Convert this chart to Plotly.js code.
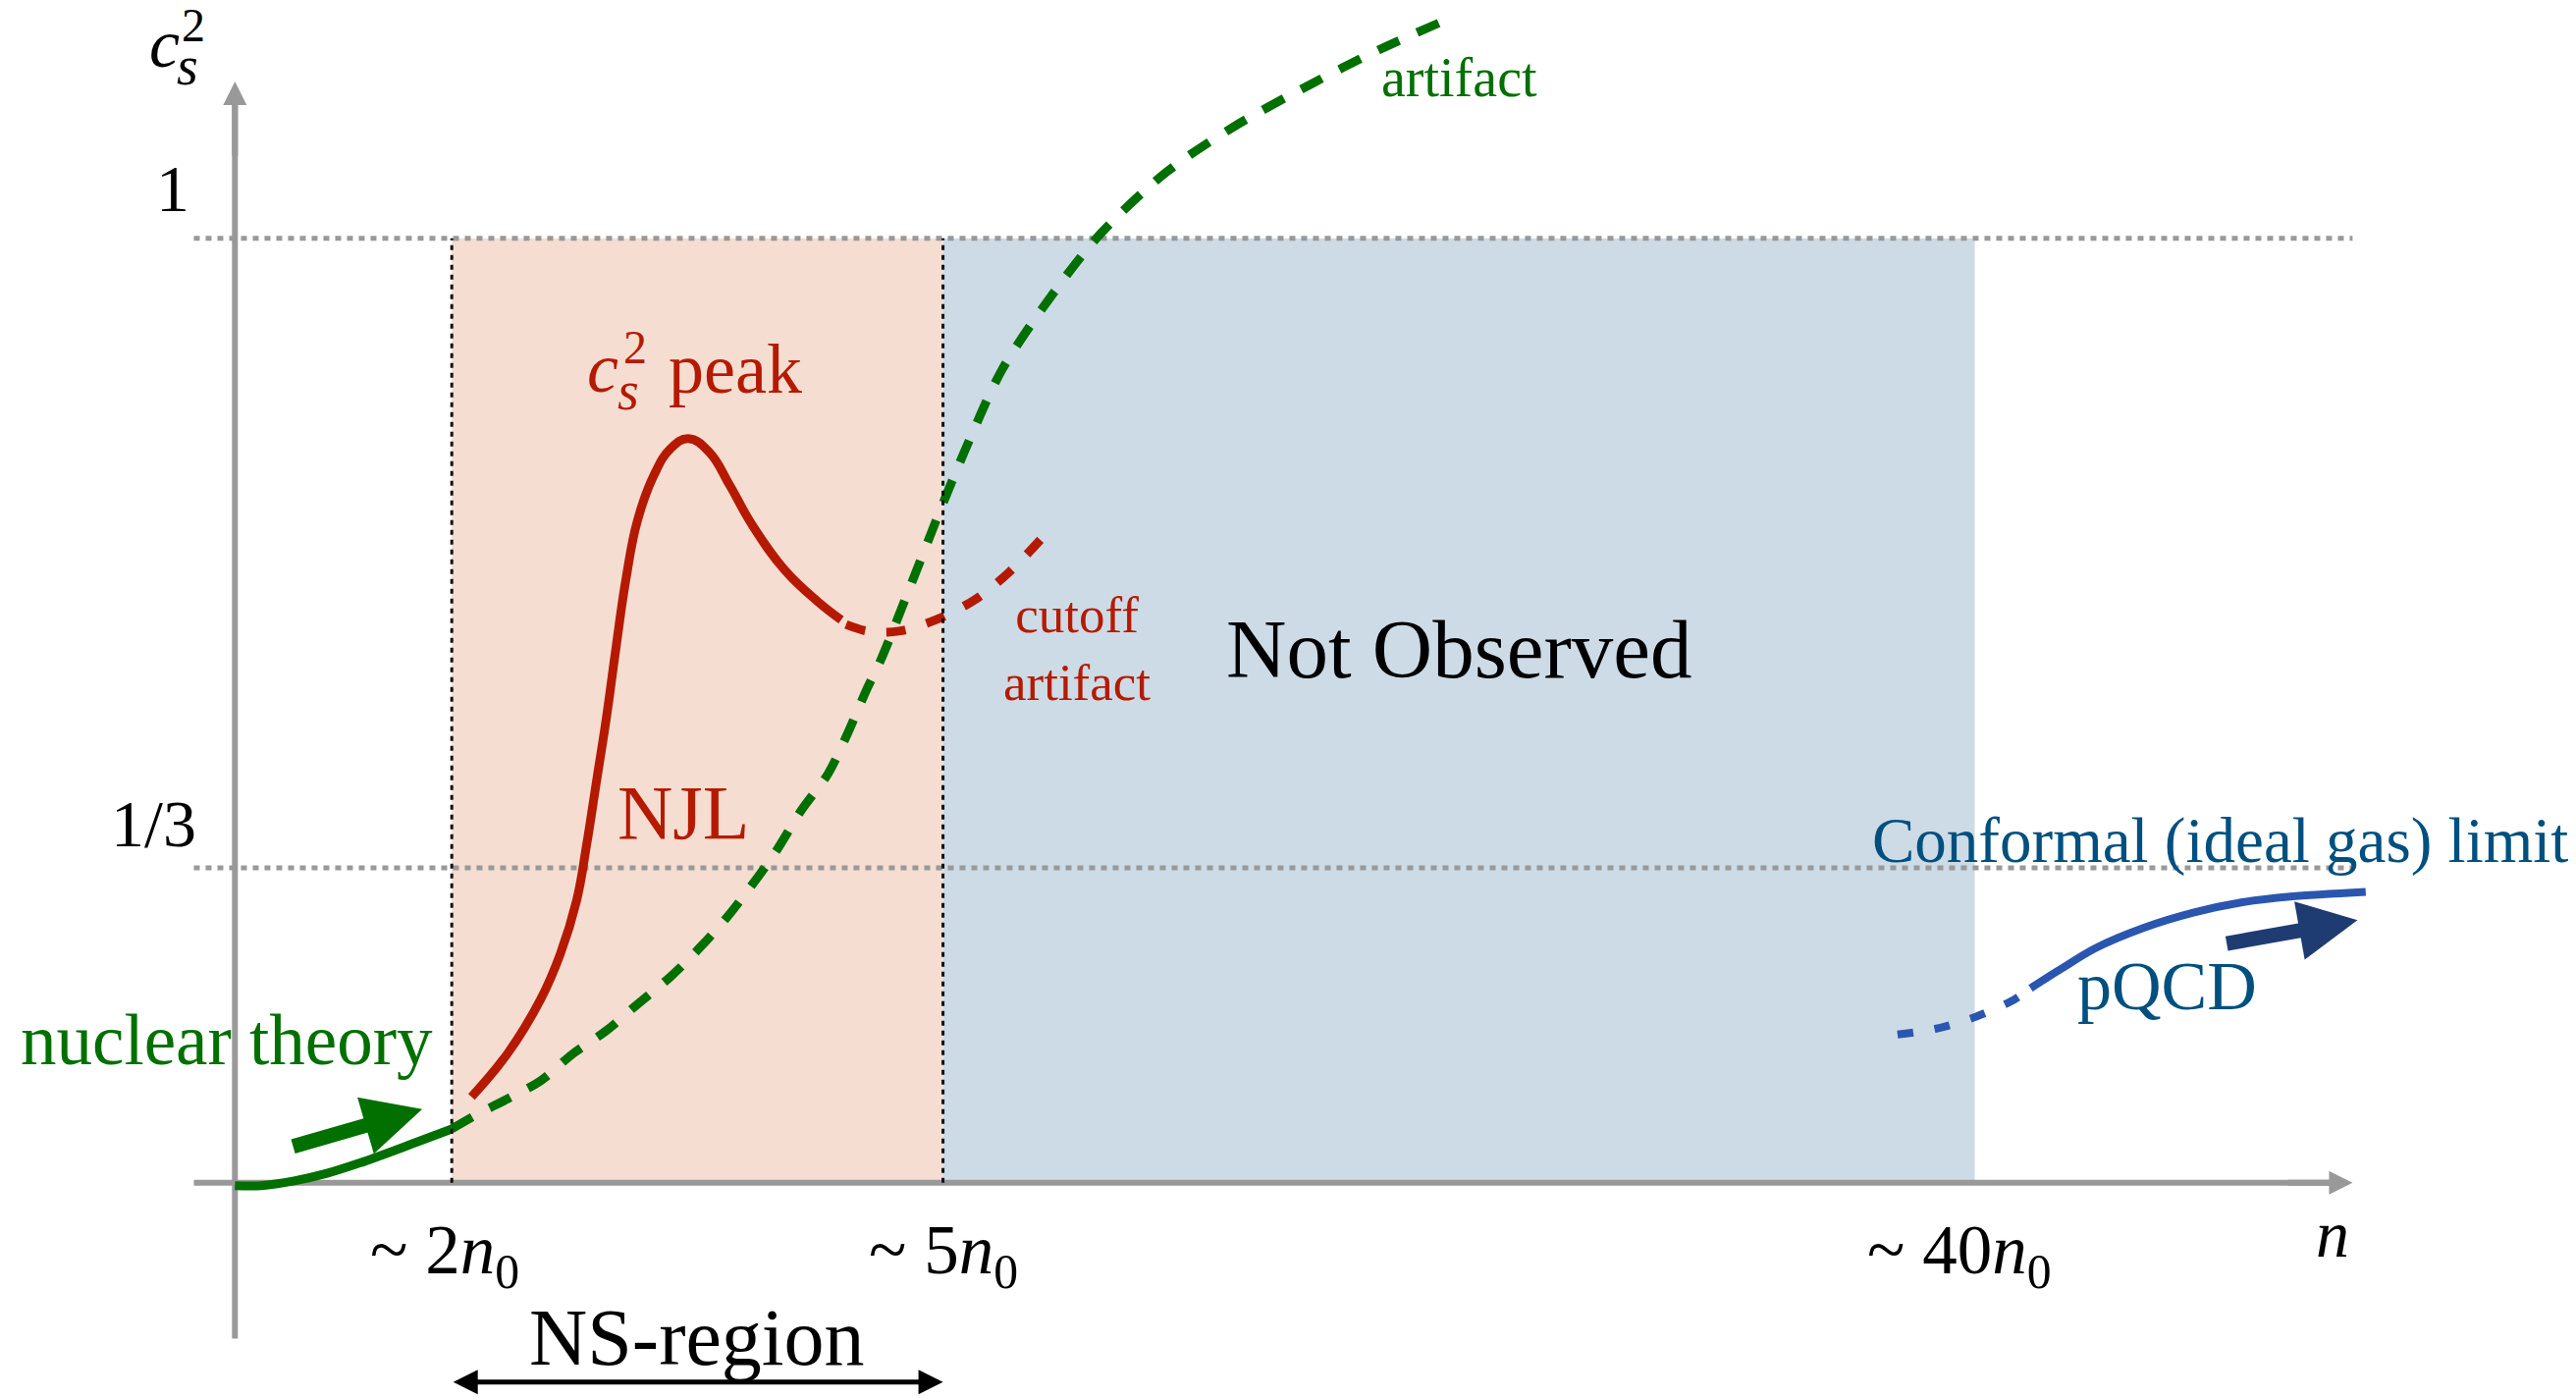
<!DOCTYPE html>
<html>
<head>
<meta charset="utf-8">
<script src="https://cdn.plot.ly/plotly-3.0.1.min.js"></script>
<style>
  html, body { margin: 0; padding: 0; background: #ffffff; }
  #chart { width: 2624px; height: 1424px; }
</style>
</head>
<body>
<div id="chart"></div>
<script>
// Schematic of the squared speed of sound c_s^2 versus baryon density n.
// The density axis uses arbitrary linear units (origin at the c_s^2 axis).

const xTickVals = [1.32, 4.31, 10.59];
const xTickText = ['~ 2<i>n</i><sub>0</sub>', '~ 5<i>n</i><sub>0</sub>', '~ 40<i>n</i><sub>0</sub>'];
const yTickVals = [1 / 3, 1];
const yTickText = ['1/3', '1'];

const nsRegion = [1.32, 4.31];
const notObservedRegion = [4.31, 10.59];
const axisExtentX = [-0.25, 12.89];
const axisExtentY = [-0.165, 1.166];

// nuclear theory (solid) continued by the extrapolation artifact (dashed)
const nuclearX = [0, 0.16, 0.36, 0.56, 0.76, 1.06, 1.32];
const nuclearY = [-0.003, -0.003, 0.002, 0.010, 0.021, 0.040, 0.057];
const artifactX = [1.32, 1.47, 1.66, 1.86, 2.06, 2.26, 2.45, 2.65, 2.83, 2.99, 3.15, 3.29, 3.45, 3.61, 3.73, 3.85, 3.93, 4.11, 4.30, 4.47, 4.67, 4.97, 5.27, 5.67, 6.07, 6.57, 6.97, 7.37];
const artifactY = [0.057, 0.072, 0.089, 0.108, 0.137, 0.161, 0.189, 0.218, 0.249, 0.280, 0.316, 0.350, 0.395, 0.433, 0.476, 0.524, 0.553, 0.631, 0.715, 0.786, 0.861, 0.939, 1.005, 1.070, 1.117, 1.165, 1.200, 1.231];

// NJL model with its c_s^2 peak, then the cutoff artifact
const njlX = [1.44, 1.66, 1.86, 1.98, 2.08, 2.14, 2.20, 2.26, 2.32, 2.38, 2.45, 2.55, 2.65, 2.76, 2.89, 3.01, 3.15, 3.35, 3.55, 3.69];
const njlY = [0.091, 0.137, 0.194, 0.242, 0.299, 0.357, 0.424, 0.491, 0.567, 0.639, 0.701, 0.749, 0.777, 0.788, 0.773, 0.739, 0.696, 0.648, 0.615, 0.596];
const cutoffX = [3.72, 3.85, 4.04, 4.28, 4.51, 4.71, 4.92];
const cutoffY = [0.591, 0.584, 0.584, 0.597, 0.618, 0.646, 0.684];

// perturbative QCD approaching the conformal limit
const pqcdDashX = [10.12, 10.35, 10.60, 10.83, 10.93];
const pqcdDashY = [0.157, 0.163, 0.176, 0.194, 0.206];
const pqcdX = [10.93, 11.12, 11.32, 11.62, 11.92, 12.22, 12.51, 12.97];
const pqcdY = [0.206, 0.227, 0.248, 0.270, 0.286, 0.297, 0.303, 0.308];

// trend arrows: [tailX, tailY, tipX, tipY]
const nuclearArrow = [0.345, 0.038, 1.14, 0.078];
const pqcdArrow = [12.115, 0.253, 12.92, 0.278];
const nsArrowY = -0.211;

const SERIF = 'Liberation Serif, Times New Roman, serif';
const GREEN = '#017000';
const RED = '#b51a00';
const BLUE = '#2a56b0';
const NAVY = '#1f3c72';
const BLUE_TEXT = '#00507f';
const AXIS = '#999999';

function curve(x, y, color, width, dash, smoothing) {
  return {
    x: x, y: y, type: 'scatter', mode: 'lines',
    line: { color: color, width: width, dash: dash || 'solid', shape: 'spline', smoothing: smoothing || 0.9 },
    hoverinfo: 'skip', showlegend: false
  };
}

const traces = [
  curve(nuclearX, nuclearY, GREEN, 9),
  curve(artifactX, artifactY, GREEN, 9, '24px,20px'),
  curve(njlX, njlY, RED, 9, 'solid', 1.2),
  curve(cutoffX, cutoffY, RED, 9, '20px,22px'),
  curve(pqcdDashX, pqcdDashY, BLUE, 8, '16px,22px'),
  curve(pqcdX, pqcdY, BLUE, 8)
];

const shapes = [
  { type: 'rect', layer: 'below', x0: nsRegion[0], x1: nsRegion[1], y0: 0, y1: 1,
    fillcolor: '#f5ddd2', line: { width: 0 } },
  { type: 'rect', layer: 'below', x0: notObservedRegion[0], x1: notObservedRegion[1], y0: 0, y1: 1,
    fillcolor: '#cddbe6', line: { width: 0 } },
  { type: 'line', layer: 'below', x0: axisExtentX[0], x1: axisExtentX[1] - 0.1, y0: 0, y1: 0,
    line: { color: AXIS, width: 6 } },
  { type: 'line', layer: 'below', x0: 0, x1: 0, y0: axisExtentY[0], y1: axisExtentY[1] - 0.02,
    line: { color: AXIS, width: 6 } }
];
yTickVals.forEach(function (v) {
  shapes.push({ type: 'line', layer: 'below', x0: axisExtentX[0], x1: axisExtentX[1], y0: v, y1: v,
    line: { color: AXIS, width: 5, dash: '6px,6px' } });
});
nsRegion.forEach(function (v) {
  shapes.push({ type: 'line', layer: 'above', x0: v, x1: v, y0: 0, y1: 1,
    line: { color: '#111111', width: 3, dash: '5px,5px' } });
});

function label(x, y, text, size, color, extra) {
  return Object.assign({
    x: x, y: y, xref: 'x', yref: 'y', text: text, showarrow: false,
    font: { family: SERIF, size: size, color: color || '#000000' }
  }, extra || {});
}

function arrow(tailX, tailY, tipX, tipY, color, width, size, extra) {
  return Object.assign({
    x: tipX, y: tipY, ax: tailX, ay: tailY, xref: 'x', yref: 'y', axref: 'x', ayref: 'y',
    text: '', showarrow: true, arrowhead: 2, arrowsize: size, arrowwidth: width, arrowcolor: color
  }, extra || {});
}

const annotations = [];

// axis arrowheads
annotations.push(arrow(0, axisExtentY[1] - 0.08, 0, axisExtentY[1], AXIS, 6, 0.8));
annotations.push(arrow(axisExtentX[1] - 0.4, 0, axisExtentX[1], 0, AXIS, 6, 0.8));

// tick labels
const xShift = [-7, 0, -16];
xTickVals.forEach(function (v, i) {
  annotations.push(label(v, 0, xTickText[i], 71, '#000000', { xshift: xShift[i], yshift: -74 }));
});
const yShiftX = [-37, -44];
const yShiftY = [45, 51];
yTickVals.forEach(function (v, i) {
  annotations.push(label(0, v, yTickText[i], 68, '#000000', { xanchor: 'right', xshift: yShiftX[i], yshift: yShiftY[i] }));
});

// axis titles
annotations.push(label(-0.432, 1.2064, '<i>c</i>', 70));
annotations.push(label(-0.289, 1.1826, '<i>s</i>', 56));
annotations.push(label(-0.253, 1.2254, '2', 48));
annotations.push(label(12.77, 0, '<i>n</i>', 68, '#000000', { yshift: -52 }));

// NS region marker
annotations.push(arrow(nsRegion[0], nsArrowY, nsRegion[1], nsArrowY, '#000000', 5, 1,
  { arrowside: 'end+start', startarrowhead: 2, startarrowsize: 1 }));
annotations.push(label((nsRegion[0] + nsRegion[1]) / 2, 0, 'NS-region', 82, '#000000', { yshift: -158 }));

// region and curve labels
annotations.push(label((notObservedRegion[0] + notObservedRegion[1]) / 2, 0.5647, 'Not Observed', 85));
annotations.push(label(2.73, 0.3926, 'NJL', 78, RED));
annotations.push(label(2.239, 0.862, '<i>c</i>', 72, RED));
annotations.push(label(2.394, 0.8385, '<i>s</i>', 56, RED));
annotations.push(label(2.436, 0.8845, '2', 48, RED));
annotations.push(label(2.625, 0.8614, 'peak', 72, RED, { xanchor: 'left' }));
annotations.push(label(5.125, 0.566, 'cutoff<br>artifact', 53, RED));
annotations.push(label(7.45, 1.1705, 'artifact', 56, GREEN));
annotations.push(label(-0.047, 0.1515, 'nuclear theory', 73, GREEN));
annotations.push(label(12.085, 0.3626, 'Conformal (ideal gas) limit', 65, BLUE_TEXT));
annotations.push(label(11.76, 0.2087, 'pQCD', 70, BLUE_TEXT));

// trend arrows
annotations.push(arrow(nuclearArrow[0], nuclearArrow[1], nuclearArrow[2], nuclearArrow[3], GREEN, 15, 0.8));
annotations.push(arrow(pqcdArrow[0], pqcdArrow[1], pqcdArrow[2], pqcdArrow[3], NAVY, 15, 0.8));

const layout = {
  width: 2624,
  height: 1424,
  margin: { l: 0, r: 0, t: 0, b: 0, pad: 0 },
  paper_bgcolor: '#ffffff',
  plot_bgcolor: '#ffffff',
  xaxis: { range: [-1.43, 14.25], visible: false, fixedrange: true },
  yaxis: { range: [-0.2278, 1.2522], visible: false, fixedrange: true },
  shapes: shapes,
  annotations: annotations,
  showlegend: false
};

Plotly.newPlot('chart', traces, layout, { staticPlot: true, displayModeBar: false });
</script>
</body>
</html>
